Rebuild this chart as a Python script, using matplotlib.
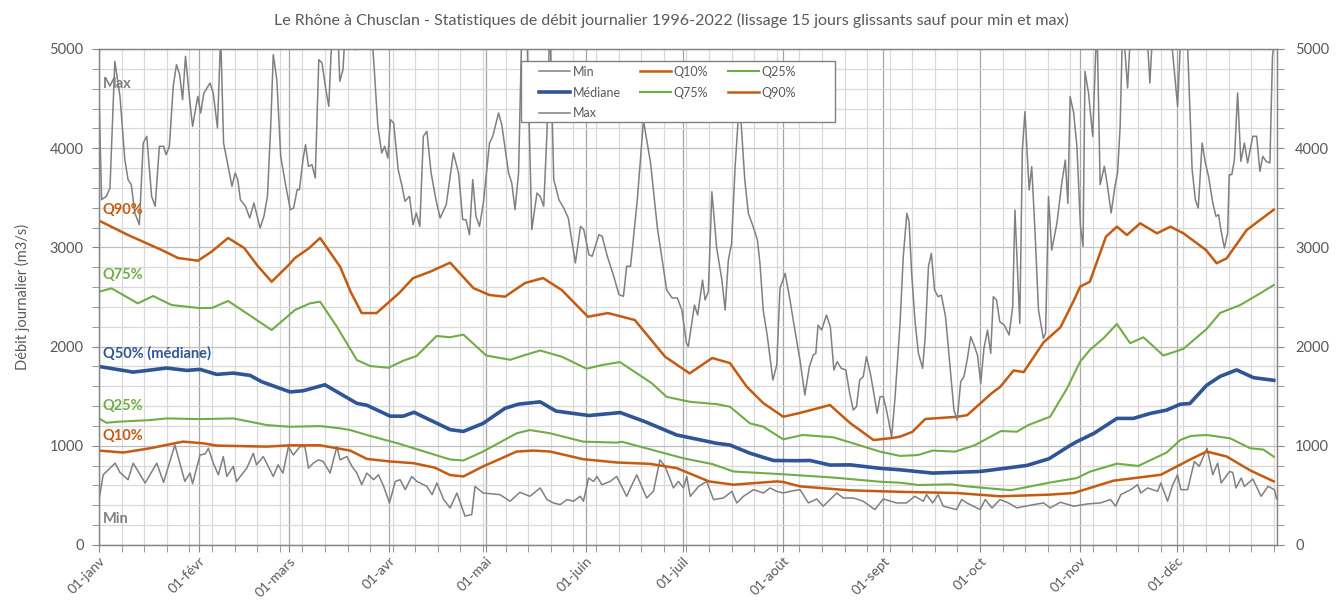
import matplotlib
matplotlib.use("Agg")
import matplotlib.pyplot as plt
from matplotlib.patches import Rectangle
from matplotlib.ticker import MultipleLocator, FixedLocator
import numpy as np

plt.rcParams['font.family'] = ['Lato', 'DejaVu Sans']

# day of year (0 = 1 Jan) / flow in m3/s
q90_days = [0, 9, 19.4, 24.5, 30.7, 35, 40, 45, 49, 53.5, 59, 60.7, 65, 68.5, 74.7, 78, 81.4, 86, 93, 97.3,
            102.6, 108.8, 116, 121, 125.8, 132, 137.6, 143.4, 151.5, 157.7, 166, 175.4, 183, 190, 195.5,
            200.7, 205.8, 212, 217, 226.5, 232.7, 240, 245.6, 248.2, 252, 256, 266, 269, 276.6, 279.2,
            283.4, 286.5, 292.7, 297.9, 302, 304, 307, 312, 315.4, 318.5, 322.6, 327.8, 332, 336, 343,
            346.3, 349.4, 355.6, 364]
q90_vals = [3270, 3125, 2974, 2893, 2866, 2960, 3095, 2994, 2820, 2654, 2830, 2893, 2990, 3095, 2806, 2550,
            2338, 2338, 2540, 2690, 2755, 2846, 2590, 2520, 2503, 2641, 2691, 2570, 2301, 2338, 2268, 1898,
            1730, 1885, 1834, 1596, 1431, 1293, 1330, 1411, 1230, 1058, 1078, 1092, 1140, 1270, 1293, 1309,
            1530, 1593, 1760, 1743, 2044, 2194, 2461, 2604, 2654, 3108, 3209, 3125, 3243, 3142, 3209, 3142,
            2974, 2840, 2890, 3175, 3380]

q75_days = [0, 3.9, 12, 16.8, 22.5, 31.3, 35, 40, 45, 53.5, 60.7, 65.4, 68.5, 73.7, 79.9, 84, 89.7, 94.3,
            98.4, 104.6, 108.8, 112.9, 120, 127.4, 132, 136.7, 143.4, 151.1, 155.8, 161.4, 171.3, 175.9,
            183.2, 191.4, 195.5, 201.7, 205.8, 212, 218, 227.5, 233.7, 242, 248.2, 253.8, 258.3, 265.3,
            271.5, 279.5, 284.4, 288, 294.7, 299.9, 304, 307, 311.2, 315.4, 319.5, 323.6, 329.8, 336,
            343.2, 347.4, 353.6, 359.8, 364]
q75_vals = [2553, 2587, 2436, 2510, 2419, 2388, 2390, 2460, 2352, 2167, 2369, 2436, 2453, 2201, 1865, 1804,
            1787, 1858, 1905, 2107, 2094, 2121, 1910, 1867, 1915, 1961, 1898, 1777, 1814, 1844, 1630, 1493,
            1443, 1420, 1394, 1226, 1193, 1065, 1109, 1086, 1025, 941, 898, 907, 952, 941, 1008, 1149, 1142,
            1210, 1293, 1576, 1848, 1966, 2083, 2228, 2034, 2094, 1910, 1977, 2178, 2340, 2419, 2537, 2621]

med_days = [0, 10.6, 14.3, 20.9, 27.2, 31.3, 36.5, 41.6, 46.8, 50.4, 59.2, 63.3, 70, 79.9, 83, 90.2, 94.3,
            97.6, 108.8, 112.9, 119, 125.8, 130, 136.7, 141.6, 151.8, 161.5, 169.2, 179, 191.4, 195.5,
            201.7, 209, 216.2, 220.3, 226.5, 232.7, 242, 248.2, 258.3, 273, 287.5, 294.4, 300.7, 303,
            308.3, 315.4, 320.5, 325.7, 330.8, 335, 338, 343.2, 347.4, 352.5, 357.7, 364]
med_vals = [1800, 1743, 1757, 1784, 1760, 1770, 1720, 1733, 1710, 1646, 1543, 1555, 1615, 1428, 1409, 1299,
            1299, 1338, 1163, 1145, 1226, 1378, 1420, 1443, 1350, 1305, 1335, 1243, 1109, 1025, 1008, 925,
            852, 850, 852, 806, 808, 773, 758, 725, 741, 802, 870, 1000, 1042, 1126, 1276, 1276, 1326, 1360,
            1419, 1426, 1610, 1700, 1765, 1687, 1660]

q25_days = [0, 2.3, 6, 15.8, 20.9, 31.3, 41.6, 52, 59.2, 68.5, 74.7, 77.8, 83, 93.2, 100.5, 108.8, 112.9,
            119, 129.4, 133.5, 139.8, 150, 160.4, 162, 170.7, 181, 190, 196.6, 211, 227.5, 242, 248.2,
            254, 258.3, 264, 268.9, 282.5, 294.7, 303, 307, 315.4, 322, 330.8, 335, 338.3, 343.2, 350.5,
            356.7, 360.8, 364]
q25_vals = [1276, 1232, 1243, 1259, 1276, 1269, 1276, 1209, 1192, 1199, 1176, 1159, 1109, 1019, 945, 862,
            852, 942, 1126, 1159, 1126, 1042, 1032, 1041, 965, 875, 816, 741, 715, 680, 638, 628, 605, 608,
            612, 591, 552, 630, 675, 739, 820, 797, 932, 1058, 1099, 1109, 1075, 975, 962, 890]

q10_days = [0, 7.5, 15.8, 26, 32.3, 36.5, 52, 59.2, 68.5, 77.8, 83, 90.2, 97.4, 104, 108.8, 112.9, 119,
            129.4, 134.6, 139.8, 150, 160.4, 170.7, 179, 189, 196.6, 210, 212, 217.2, 232.7, 248.2, 265.8,
            279.2, 294.7, 302, 314.3, 329, 338.3, 343.2, 349.4, 356.7, 364]
q10_vals = [952, 932, 975, 1042, 1025, 1002, 992, 1005, 1005, 952, 868, 842, 825, 780, 705, 691, 792, 942,
            952, 942, 865, 832, 818, 775, 641, 608, 641, 635, 591, 551, 536, 524, 491, 508, 524, 648, 708,
            865, 942, 892, 752, 641]

min_days = [0, 1.3, 5, 6.5, 9, 10.6, 14.3, 17.9, 20, 23.5, 26.6, 28.2, 29, 31.3, 32.9, 33.9, 35.4, 37,
            38.5, 39.6, 41.6, 42.6, 45.8, 47.8, 48.8, 50.9, 54, 55.5, 57, 58.7, 60.2, 62.3, 63.8, 64.9,
            66.4, 68, 69.5, 71.6, 73.7, 74.7, 76.8, 78.4, 79.9, 81.4, 83, 85.1, 86.6, 88.2, 90, 91.8, 93.3,
            94.9, 96.9, 98.5, 100.5, 101.6, 103.2, 104.7, 106.8, 108.8, 110.9, 113.4, 115.5, 116.5, 119,
            124.2, 127.4, 130.4, 133.5, 136.7, 138.8, 140.8, 142.9, 145, 147, 149.1, 150.1, 151.7, 153.2,
            154.3, 155.8, 158.4, 160.4, 163.5, 166.6, 169.7, 171.8, 173.8, 175.4, 178, 179.5, 181.1, 182.1,
            183.2, 185.8, 188.3, 190.4, 193.5, 196.1, 197.6, 199.7, 202.8, 205.9, 207.9, 210, 212, 214.1,
            217.2, 219.8, 222.4, 224.4, 228.6, 230.6, 233.7, 236.8, 240.4, 243, 247.1, 250.2, 252.8, 255.4,
            256.4, 258.3, 260, 261.6, 265.7, 267.3, 268.9, 273, 274.6, 276.7, 279.2, 281.8, 284.4, 289.6,
            292.7, 294.7, 297.9, 302, 306.2, 310.3, 313.4, 315, 316.6, 319.7, 321.8, 322.8, 324.9, 328, 329,
            331.1, 332.7, 334.2, 335.2, 337.3, 339.4, 340.9, 343.3, 345.1, 346.6, 347.7, 350.3, 351.3,
            352.3, 353.9, 354.9, 357.5, 360.1, 362.2, 364.2, 364.9]
min_vals = [458, 708, 825, 731, 658, 825, 625, 825, 631, 1009, 641, 725, 618, 908, 918, 975, 825, 708, 892,
            691, 792, 641, 775, 925, 808, 892, 691, 808, 725, 992, 908, 992, 992, 775, 825, 858, 842, 725,
            992, 858, 892, 792, 725, 608, 725, 658, 708, 591, 424, 641, 658, 558, 691, 641, 608, 591, 508,
            625, 458, 374, 524, 291, 307, 591, 524, 508, 441, 531, 491, 575, 458, 424, 407, 458, 441, 491,
            441, 675, 641, 691, 608, 641, 691, 491, 708, 474, 541, 858, 792, 575, 641, 575, 691, 491, 591,
            641, 458, 474, 541, 424, 491, 558, 524, 575, 541, 524, 541, 558, 424, 464, 391, 524, 474, 474,
            441, 357, 464, 424, 424, 491, 441, 508, 424, 508, 391, 357, 458, 424, 357, 458, 374, 458, 424,
            374, 407, 424, 374, 431, 391, 414, 424, 458, 391, 508, 558, 608, 524, 575, 541, 625, 441, 608,
            708, 558, 558, 842, 792, 975, 708, 825, 625, 741, 731, 575, 675, 591, 665, 491, 591, 558, 464]

# max series; stretches above 5000 leave the plot and get clipped
max_days = [0, 0.8, 2.3, 3.4, 4.9, 6.5, 8, 9, 10, 11.1, 12.5, 13.7, 14.8, 16.3, 17.4, 18.7, 20, 20.8, 21.8,
            23, 24, 25, 25.9, 26.8, 28.2, 29, 30.6, 31.5, 32.5, 34.4, 35.4, 36.7, 37.7, 38.6, 40.2, 41.2,
            42.2, 43, 43.8, 45.4, 46.7, 48, 49, 49.9, 51.1, 52.2, 53.2, 54, 55.1, 56.3, 57.9, 59.3, 60.3,
            61.4, 62.1, 63.2, 64, 64.9, 66, 67, 68.1, 69.1, 70.2, 71.2, 72.5, 74, 74.6, 75.6, 77, 79.5, 81,
            84.2, 85.3, 86.4, 87.6, 88.5, 89.5, 90.3, 91.3, 92.7, 93.9, 94.8, 96.2, 97.3, 98.3, 99.4, 100.5,
            101.6, 102.9, 104.4, 105.7, 107.6, 108.8, 109.8, 111.4, 112.7, 113.7, 114.8, 115.8, 116.8,
            117.9, 119.1, 121, 122, 123.8, 124.8, 126.9, 127.9, 128.9, 130, 131.2, 132.5, 134.1, 135.7,
            136.7, 137.8, 138.8, 139.7, 140.9, 142.5, 144, 145.4, 147.6, 149.2, 150.2, 151.8, 152.8, 154.9,
            155.9, 157.5, 159.5, 161.1, 162.5, 163.5, 164.7, 166.8, 168.7, 170.9, 173, 174.5, 175.9, 177.6,
            179.2, 180.6, 182, 182.6, 184.5, 185.5, 187, 187.8, 188.8, 189.9, 191.4, 193, 194, 195, 196,
            197.1, 198.1, 198.8, 200.1, 201.2, 202.7, 204, 204.8, 205.8, 207.1, 208.8, 210, 211, 212.6,
            214.1, 215.6, 217.2, 218.7, 220.1, 221.3, 222.1, 222.8, 223.9, 225.4, 226.6, 227.7, 228.7, 230,
            231.4, 232.6, 233.7, 234.7, 235.7, 236.8, 237.8, 239, 239.9, 241.1, 242, 243, 244, 245.6, 246.6,
            248.2, 249.2, 250.3, 251, 251.8, 252.9, 253.9, 255.2, 256, 257, 257.9, 258.9, 260, 261, 262.3,
            263.5, 264.9, 265.9, 267, 268, 269, 270.1, 271.1, 272.2, 273.2, 274.2, 275.3, 276.3, 277.1,
            278.1, 279.1, 280.5, 282, 283.1, 283.8, 285.3, 286.1, 286.9, 288.2, 289, 290, 291.1, 292.6,
            293.3, 294.2, 295.2, 296.8, 298.3, 299.4, 300.2, 300.9, 302, 303, 304.1, 304.9, 305.5, 306.6,
            307.9, 309.2, 310.2, 311.5, 312.5, 313.6, 314.8, 315.6, 316.4, 317.2, 318.7, 320, 322.5, 324.5,
            325.6, 327, 329.5, 331.7, 334.2, 335.5, 337, 338.7, 339.7, 340.6, 341.8, 342.8, 343.8, 345.1,
            346.1, 346.9, 347.6, 348.7, 349.7, 350.2, 351, 351.8, 352.8, 353.8, 354.9, 355.9, 357.5, 358.7,
            359.7, 360.6, 361.6, 362.8, 363.6, 364.5]
max_vals = [4556, 3481, 3515, 3599, 4876, 4523, 3884, 3683, 3632, 3347, 3229, 4052, 4120, 3515, 3414, 4019,
            4019, 3935, 4019, 4624, 4842, 4741, 4489, 4926, 4456, 4220, 4523, 4355, 4556, 4657, 4556, 4204,
            5150, 4052, 3784, 3616, 3750, 3683, 3481, 3414, 3296, 3448, 3313, 3196, 3313, 3515, 4220, 4943,
            4691, 3918, 3616, 3380, 3397, 3582, 3582, 3884, 4036, 3817, 3834, 3700, 4892, 4859, 4607, 4422,
            5400, 5200, 4674, 4792, 5600, 4990, 5500, 5300, 4792, 4220, 3952, 4019, 3901, 4288, 4254, 3784,
            3616, 3464, 3515, 3229, 3347, 3212, 4120, 4170, 3750, 3481, 3296, 3431, 3716, 3952, 3750, 3280,
            3280, 3128, 3683, 3313, 3212, 3448, 4052, 4120, 4355, 4237, 3750, 3649, 3380, 3750, 5500, 5300,
            3179, 3548, 3515, 3414, 4153, 5300, 3683, 3481, 3397, 3296, 2843, 3212, 3179, 2927, 2910, 3128,
            3112, 2910, 2708, 2524, 2507, 2810, 2810, 3481, 4280, 3851, 3200, 2876, 2570, 2490, 2490, 2369,
            2036, 2002, 2419, 2318, 2671, 2470, 2553, 3561, 2990, 2671, 2369, 2873, 3040, 3813, 4317, 4334,
            3679, 3343, 3209, 3075, 2840, 2369, 2100, 1663, 1814, 2587, 2738, 2470, 2167, 1865, 1512, 1798,
            1915, 1932, 2217, 2167, 2318, 2201, 1764, 1848, 1781, 1764, 1529, 1361, 1394, 1663, 1697, 1898,
            1730, 1562, 1327, 1495, 1495, 1361, 1092, 1462, 2234, 2906, 3343, 3259, 2738, 2234, 1932, 1781,
            2100, 2805, 2940, 2570, 2503, 2520, 2301, 1865, 1361, 1260, 1646, 1697, 1865, 2100, 2016, 1915,
            1629, 1982, 2167, 1932, 2503, 2470, 2251, 2217, 2117, 2402, 3377, 2234, 3980, 4368, 3578, 3813,
            3175, 2369, 2083, 2133, 3511, 2973, 3242, 3645, 3880, 3444, 4520, 4355, 4019, 3212, 3011, 4775,
            4556, 4120, 5300, 3632, 3817, 3616, 3347, 3616, 3750, 4220, 5300, 4607, 5400, 5700, 5300, 4657,
            5500, 5800, 5300, 4422, 5400, 5300, 3784, 3481, 3397, 4052, 3851, 3716, 3448, 3313, 3330, 3179,
            2994, 3145, 3733, 3733, 3884, 4556, 3868, 4052, 3851, 4120, 4120, 3767, 3918, 3868, 3851, 4926,
            5200]

month_days = [0, 31, 59, 90, 120, 151, 181, 212, 243, 273, 304, 334]
month_labels = ['01-janv', '01-févr', '01-mars', '01-avr', '01-mai', '01-juin', '01-juil', '01-août',
                '01-sept', '01-oct', '01-nov', '01-déc']

grey = '#808080'
orange = '#C55A11'
green = '#70AD47'
blue = '#2F5597'
txt = '#595959'

fig = plt.figure(figsize=(13.43, 6.01), dpi=100)
ax = fig.add_axes([99 / 1343, 1 - 545 / 601, 1178 / 1343, 496 / 601])

l_min, = ax.plot(min_days, min_vals, color=grey, lw=1.1, label='Min')
l_q10, = ax.plot(q10_days, q10_vals, color=orange, lw=1.8, label='Q10%')
l_q25, = ax.plot(q25_days, q25_vals, color=green, lw=1.5, label='Q25%')
l_med, = ax.plot(med_days, med_vals, color=blue, lw=2.6, label='Médiane')
l_q75, = ax.plot(q75_days, q75_vals, color=green, lw=1.5, label='Q75%')
l_q90, = ax.plot(q90_days, q90_vals, color=orange, lw=1.8, label='Q90%')
l_max, = ax.plot(max_days, max_vals, color=grey, lw=1.1, label='Max')

ax.set_xlim(0, 365)
ax.set_ylim(0, 5000)

# weekly minor grid, monthly major grid
ax.xaxis.set_major_locator(FixedLocator(month_days))
ax.xaxis.set_minor_locator(FixedLocator(np.arange(0, 365, 7)))
ax.set_xticklabels(month_labels, rotation=45, ha='right', va='top', rotation_mode='anchor',
                   fontsize=10, color=txt)
ax.yaxis.set_major_locator(MultipleLocator(1000))
ax.yaxis.set_minor_locator(MultipleLocator(200))
ax.grid(which='major', axis='x', color='#A6A6A6', lw=0.9)
ax.grid(which='minor', axis='x', color='#D9D9D9', lw=0.9)
ax.grid(which='major', axis='y', color='#BFBFBF', lw=0.9)
ax.grid(which='minor', axis='y', color='#D9D9D9', lw=0.9)
ax.set_axisbelow(True)

ax.tick_params(axis='x', which='both', direction='out', length=5, color='#868686', pad=2)
ax.tick_params(axis='y', which='both', direction='out', length=5, color='#868686',
               labelsize=10.5, labelcolor=txt, pad=6)
for s in ax.spines.values():
    s.set_color('#868686')
    s.set_linewidth(1)

ax2 = ax.twinx()
ax2.set_ylim(0, 5000)
ax2.yaxis.set_major_locator(MultipleLocator(1000))
ax2.yaxis.set_minor_locator(MultipleLocator(200))
ax2.tick_params(axis='y', which='both', direction='out', length=5, color='#868686',
                labelsize=10.5, labelcolor=txt, pad=8)
for s in ax2.spines.values():
    s.set_color('#868686')

ax.set_ylabel('Débit journalier (m3/s)', fontsize=10.5, color=txt, labelpad=14)
fig.suptitle('Le Rhône à Chusclan - Statistiques de débit journalier 1996-2022 '
             '(lissage 15 jours glissants sauf pour min et max)',
             fontsize=11.5, color=txt, y=0.978)

# series names written inside the plot
names = [('Max', 4650, grey), ('Q90%', 3380, orange), ('Q75%', 2720, green),
         ('Q50% (médiane)', 1935, blue), ('Q25%', 1400, green), ('Q10%', 1100, orange),
         ('Min', 262, grey)]
for name, yv, c in names:
    ax.text(1.2, yv, name, color=c, fontsize=10.5, fontweight='bold', va='center', ha='left')

# legend box drawn on its own, entries spread inside it
ax.add_patch(Rectangle((0.3582, 0.8528), 0.2666, 0.123, transform=ax.transAxes,
                       facecolor='white', edgecolor='#808080', lw=1, zorder=4.8))
leg = ax.legend([l_min, l_med, l_max, l_q10, l_q75, l_q25, l_q90],
                ['Min', 'Médiane', 'Max', 'Q10%', 'Q75%', 'Q25%', 'Q90%'],
                ncol=3, loc='upper left', bbox_to_anchor=(0.3735, 0.866, 0.218, 0.1),
                mode='expand', borderaxespad=0, borderpad=0, fontsize=9, frameon=False,
                handlelength=2.5, handletextpad=0.2, labelspacing=0.7)
leg.set_zorder(5)
for t in leg.get_texts():
    t.set_color(txt)

fig.savefig('out.png', dpi=100)
